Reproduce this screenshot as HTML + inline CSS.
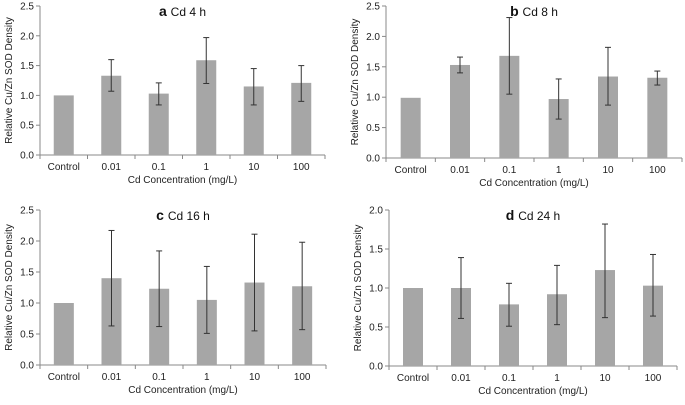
<!DOCTYPE html>
<html><head><meta charset="utf-8"><style>
body{margin:0;background:#fff;width:685px;height:400px;overflow:hidden}
svg{font-family:"Liberation Sans",Arial,sans-serif}
</style></head><body>
<svg id="fig" width="685" height="400"></svg>
<script>
const categories=["Control","0.01","0.1","1","10","100"];
const meansA=[1.0,1.33,1.03,1.59,1.15,1.21];
const lowA=[1.0,1.07,0.84,1.20,0.84,0.90];
const highA=[1.0,1.60,1.21,1.97,1.45,1.50];
const meansB=[0.99,1.53,1.68,0.97,1.34,1.32];
const lowB=[0.99,1.40,1.05,0.64,0.87,1.20];
const highB=[0.99,1.66,2.31,1.30,1.82,1.43];
const meansC=[1.0,1.40,1.23,1.05,1.33,1.27];
const lowC=[1.0,0.63,0.62,0.51,0.55,0.57];
const highC=[1.0,2.17,1.84,1.59,2.11,1.98];
const meansD=[1.0,1.00,0.79,0.92,1.23,1.03];
const lowD=[1.0,0.61,0.51,0.53,0.62,0.64];
const highD=[1.0,1.39,1.06,1.29,1.82,1.43];
const ticksAB=["0.0","0.5","1.0","1.5","2.0","2.5"];
const ticksD=["0.0","0.5","1.0","1.5","2.0"];

const NS="http://www.w3.org/2000/svg";
const svg=document.getElementById("fig");
function mk(tag,attrs,parent,txt){const e=document.createElementNS(NS,tag);for(const k in attrs)e.setAttribute(k,attrs[k]);if(txt!==undefined)e.textContent=txt;parent.appendChild(e);return e;}

function panel(id,letter,label,x0,x1,y0,yTop,ticks,means,low,high){
  const g=mk("g",{},svg);
  
  
  const ymax=parseFloat(ticks[ticks.length-1]);
  const ys=v=>y0-(v/ymax)*(y0-yTop);
  const cw=(x1-x0)/categories.length;
  const xs=i=>x0+cw*(i+0.5);
  // axes
  const ya=mk("line",{x1:x0,y1:yTop,x2:x0,y2:y0,stroke:"#888","stroke-width":1},g);
  
  const xa=mk("line",{x1:x0,y1:y0,x2:x1,y2:y0,stroke:"#888","stroke-width":1},g);
  
  ticks.forEach(t=>{const y=ys(parseFloat(t));
    mk("line",{x1:x0-4,y1:y,x2:x0,y2:y,stroke:"#888"},g);
    const tl=mk("text",{x:x0-6,y:y+3.5,"text-anchor":"end","font-size":10,fill:"#222"},g,t);
    
  });
  for(let i=0;i<=categories.length;i++){const x=x0+cw*i;mk("line",{x1:x,y1:y0,x2:x,y2:y0+4,stroke:"#888"},g);}
  categories.forEach((c,i)=>{
    const b=mk("rect",{x:xs(i)-10,y:ys(means[i]),width:20,height:y0-ys(means[i]),fill:"#a6a6a6"},g);
    
    if(high[i]>low[i]){
      const eb=mk("g",{stroke:"#333","stroke-width":1},g);
      
      mk("line",{x1:xs(i),y1:ys(high[i]),x2:xs(i),y2:ys(low[i])},eb);
      mk("line",{x1:xs(i)-3,y1:ys(high[i]),x2:xs(i)+3,y2:ys(high[i])},eb);
      mk("line",{x1:xs(i)-3,y1:ys(low[i]),x2:xs(i)+3,y2:ys(low[i])},eb);
    }
    const cl=mk("text",{x:xs(i),y:y0+15,"text-anchor":"middle","font-size":10,fill:"#222"},g,c);
    
  });
  const xt=mk("text",{x:(x0+x1)/2,y:y0+28,"text-anchor":"middle","font-size":10,fill:"#222"},g,"Cd Concentration (mg/L)");
  
  const yc=(y0+yTop)/2;
  const yt=mk("text",{x:x0-28,y:yc,"text-anchor":"middle","font-size":10,fill:"#222",transform:`rotate(-90 ${x0-28} ${yc})`},g,"Relative Cu/Zn SOD Density");
  
  const ti=mk("text",{x:(x0+x1)/2,y:yTop+10,"text-anchor":"middle","font-size":12,fill:"#111"},g);
  
  mk("tspan",{"font-weight":"bold","font-size":14},ti,letter+" ");
  mk("tspan",{},ti,label);
}
panel("a","a","Cd 4 h",40,325,155,6,ticksAB,meansA,lowA,highA);
panel("b","b","Cd 8 h",386,682,158,6,ticksAB,meansB,lowB,highB);
panel("c","c","Cd 16 h",40,326,365,210,ticksAB,meansC,lowC,highC);
panel("d","d","Cd 24 h",389,677,366,210,ticksD,meansD,lowD,highD);
</script>
</body></html>
